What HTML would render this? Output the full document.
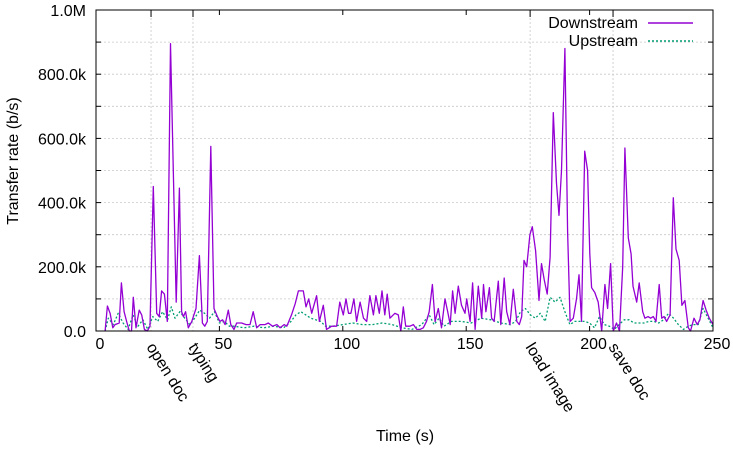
<!DOCTYPE html>
<html><head><meta charset="utf-8"><style>
html,body{margin:0;padding:0;background:#fff}
svg{display:block;font-family:"Liberation Sans",sans-serif}
</style></head><body>
<svg id="chart" width="733" height="449" viewBox="0 0 733 449" xmlns="http://www.w3.org/2000/svg">
<g id="grid"></g>
<g id="axes"></g>
<g id="series"></g>
<rect x="96" y="10" width="617" height="321" fill="none" stroke="#000" stroke-width="1"/>
<text transform="translate(18,161) rotate(-90)" text-anchor="middle" font-size="16">Transfer rate (b/s)</text>
<text x="405" y="441" text-anchor="middle" font-size="16">Time (s)</text>
<g>
<text x="638" y="28" text-anchor="end" font-size="16">Downstream</text>
<line x1="648" y1="23" x2="693" y2="23" stroke="#9400d3" stroke-width="1.5"/>
<text x="638" y="46" text-anchor="end" font-size="16">Upstream</text>
<line x1="648" y1="41" x2="693" y2="41" stroke="#009e73" stroke-width="1.5" stroke-dasharray="2,2"/>
</g>
</svg>
<script>
const downTimes=[3.7,4.6,5.7,6.8,7.7,9.4,10.3,11.4,12.4,13.5,14.4,15.1,16.2,17.5,18.5,19.6,20.8,21.9,23.2,24.6,25.6,26.6,27.7,28.9,30.2,32.5,33.8,34.7,35.4,36.3,37.4,38.8,40.5,41.9,43.1,44.1,45.1,46.5,47.8,49.2,50.2,51.3,52.3,53.6,54.6,55.9,57,59,60.8,62.4,63.7,65.1,66.5,68.5,69.8,71.5,73.3,74.6,76.2,77.3,79.2,80.7,82,84,85.1,86.2,87.4,89.4,90.5,92.1,93.4,95.5,97.5,98.8,100.2,101.3,102.3,103.3,104.5,105.6,107,108.4,109.7,111,112.4,113.4,114.8,115.9,117,118,119.1,121.1,122.5,123.5,124.5,125.5,127.2,128.6,130,131.3,132.6,133.9,135,136.3,137.4,138.7,140,141.4,142.5,143.5,144.5,145.5,146.8,148.1,149.5,150.2,151.6,152.6,153.6,154.9,156.3,157,158,159.4,160.3,161.3,163,164,165.4,166.4,167.7,169.1,170.5,171.5,172.5,173.4,174.5,175.8,176.8,178.1,179.5,180.5,181.6,182.8,184,185.3,186.6,187.6,188.6,190,191.1,192.1,193.4,194.7,195.7,196.7,198,199.2,200.1,200.8,202.1,203.5,204.9,206.2,207.3,208.5,209.6,210.9,212.1,213.4,214.3,215.7,216.8,217.6,219.1,220.1,221.5,222.4,223.7,224.7,225.8,226.9,228.2,229.2,230.2,231.2,232.6,233.9,235,236.3,237.4,238.6,240,240.9,242.3,243.6,244.7,246,247.2,248.5,250];
const downValues=[0,78,55,10,20,25,150,60,30,0,0,105,10,65,50,5,0,15,450,55,45,125,115,30,895,90,445,60,45,60,10,30,70,235,25,15,30,575,70,45,30,35,20,65,20,5,25,25,20,20,60,10,20,20,25,15,20,10,20,15,50,85,125,125,75,100,55,110,30,80,5,15,15,90,50,100,55,55,100,30,90,40,30,110,50,110,55,125,50,115,40,55,50,0,75,15,15,20,5,5,10,30,60,145,30,70,10,100,60,20,125,55,140,80,55,100,30,150,5,140,40,145,60,135,40,30,155,20,165,60,20,130,30,20,45,220,200,300,325,250,95,210,160,115,230,680,460,360,500,880,310,30,40,100,175,30,560,500,240,135,120,90,0,145,70,210,0,25,0,200,570,290,240,140,90,150,60,40,45,40,45,30,145,40,45,30,50,415,255,220,80,95,10,0,40,20,35,95,65,40,20];
const upTimes=[3.7,5,7,9,11,13,15,17,19,21,23,25,27,29,30.5,32,34,36,38,40,42,44,46,48,50,52,54,56,60,64,68,72,76,79,81,83,85,87,89,91,93,96,100,104,108,112,116,120,124,128,132,135,137,139,141,144,148,152,156,160,164,168,170,172,174,176,178,180,182,184,186,188,190,192,194,196,198,200,202,204,206,208,210,212,214,216,218,220,222,224,226,228,230,232,234,236,238,240,242,244,246,248,250];
const upValues=[0,40,20,55,25,5,50,15,35,5,45,30,60,35,75,40,60,40,20,40,65,55,40,60,25,30,15,15,10,15,10,15,10,30,50,60,50,40,35,30,15,15,20,25,20,20,25,20,10,5,20,50,20,40,15,30,30,25,40,35,25,20,30,60,70,50,40,55,30,105,90,105,60,20,30,30,30,25,10,45,20,15,5,20,35,35,25,25,25,30,30,25,35,55,40,20,5,15,20,20,70,40,10];
const xTicks=[0,50,100,150,200,250];
const yGrid=[0,100,200,300,400,500,600,700,800,900,1000];
const yLabels=["0.0","200.0k","400.0k","600.0k","800.0k","1.0M"];
const yLabelValues=[0,200,400,600,800,1000];
const eventTimes=[22.3,39.3,175.9,209.5];
const eventLabels=["open doc","typing","load image","save doc"];

const NS="http://www.w3.org/2000/svg";
const X0=96,X1=713,Y0=331,Y1=10;
function xs(t){return X0+(t/250)*(X1-X0);}
function ys(v){return Y0-(v/1000)*(Y0-Y1);}
function mk(tag,attrs,parent){const e=document.createElementNS(NS,tag);for(const k in attrs)e.setAttribute(k,attrs[k]);parent.appendChild(e);return e;}
const grid=document.getElementById('grid'),axes=document.getElementById('axes'),series=document.getElementById('series');

yGrid.forEach(v=>{
  if(v>0&&v<1000){
    const g=mk('line',{x1:X0,x2:X1,y1:ys(v),y2:ys(v),stroke:'#c8c8c8','stroke-width':0.8,'stroke-dasharray':'2,2'},grid);
    
    
  }
  const t1=mk('line',{x1:X0,x2:X0+5,y1:ys(v),y2:ys(v),stroke:'#000'},axes);
  
  
  const t2=mk('line',{x1:X1-5,x2:X1,y1:ys(v),y2:ys(v),stroke:'#000'},axes);
  
  
});
yLabelValues.forEach((v,i)=>{
  const t=mk('text',{x:86,y:ys(v)+6,'text-anchor':'end','font-size':16},axes);
  t.textContent=yLabels[i];
  
  
});
xTicks.forEach(v=>{
  const a=mk('line',{x1:xs(v),x2:xs(v),y1:Y0,y2:Y0-5,stroke:'#000'},axes);
  
  
  const b=mk('line',{x1:xs(v),x2:xs(v),y1:Y1,y2:Y1+5,stroke:'#000'},axes);
  
  
  const t=mk('text',{x:xs(v)+4,y:349,'text-anchor':'middle','font-size':16},axes);
  t.textContent=String(v);
  
  
});
eventTimes.forEach((v,i)=>{
  const g=mk('line',{x1:xs(v),x2:xs(v),y1:Y1,y2:Y0,stroke:'#c8c8c8','stroke-width':0.8,'stroke-dasharray':'2,2'},grid);
  
  
  const a=mk('line',{x1:xs(v),x2:xs(v),y1:Y1,y2:Y1+7,stroke:'#000'},axes);
  
  
  const t=mk('text',{x:0,y:0,'font-size':16,transform:`translate(${xs(v)-5},347) rotate(58)`},axes);
  t.textContent=eventLabels[i];
  
  
});
function poly(times,vals,color,dash,name){
  const pts=times.map((t,i)=>xs(t).toFixed(1)+','+ys(vals[i]).toFixed(1)).join(' ');
  const p=mk('polyline',{points:pts,fill:'none',stroke:color,'stroke-width':1.3,'stroke-linejoin':'round'},series);
  if(dash)p.setAttribute('stroke-dasharray',dash);
  
  
}
poly(upTimes,upValues,'#009e73','2,2','upstream-line');
poly(downTimes,downValues,'#9400d3',null,'downstream-line');
</script>
</body></html>
